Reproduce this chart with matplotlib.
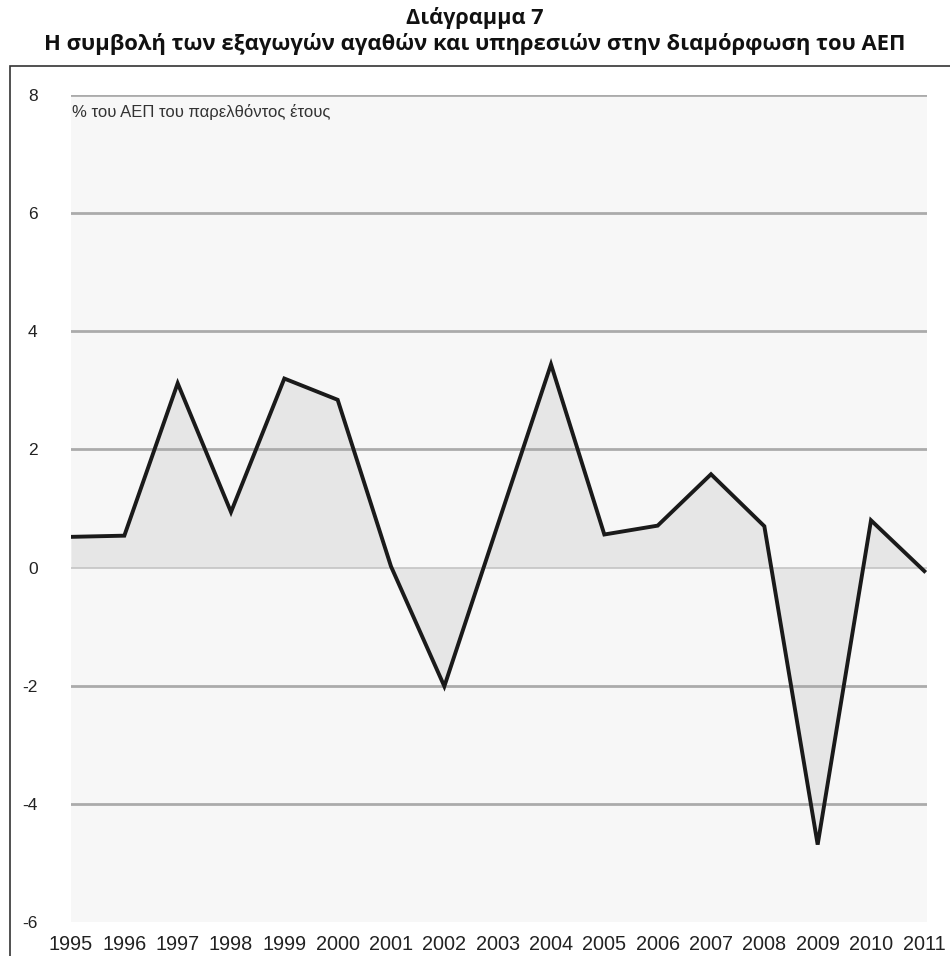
import matplotlib
matplotlib.use("Agg")
import matplotlib.pyplot as plt
from matplotlib.patches import Rectangle
import numpy as np

years = [1995, 1996, 1997, 1998, 1999, 2000, 2001, 2002, 2003,
         2004, 2005, 2006, 2007, 2008, 2009, 2010, 2011]
values = [0.52, 0.54, 3.12, 0.94, 3.20, 2.84, 0.02, -2.01, 0.72,
          3.44, 0.56, 0.71, 1.58, 0.70, -4.69, 0.80, -0.06]
yticks = [-6, -4, -2, 0, 2, 4, 6, 8]
title1 = "Διάγραμμα 7"
title2 = "Η συμβολή των εξαγωγών αγαθών και υπηρεσιών στην διαμόρφωση του ΑΕΠ"
unit_label = "% του ΑΕΠ του παρελθόντος έτους"

W, H = 950, 956
fig = plt.figure(figsize=(W / 100, H / 100), dpi=100)
fig.patch.set_facecolor("white")

# outer frame
fig.patches.append(Rectangle((10 / W, -0.05), 2.0, (956 - 66) / H + 0.05,
                             transform=fig.transFigure, fill=False,
                             edgecolor="#333333", linewidth=1.2, clip_on=False))

fig.text(0.5, 1 - 18 / H, title1, ha="center", va="center",
         fontsize=15.6, fontweight="bold", family=["Open Sans", "DejaVu Sans"], color="#111111")
fig.text(0.5, 1 - 44 / H, title2, ha="center", va="center",
         fontsize=15.8, fontweight="bold", family=["Open Sans", "DejaVu Sans"], color="#111111")

left, right = 71 / W, 927 / W
bottom, top = (H - 922) / H, (H - 95) / H
ax = fig.add_axes([left, bottom, right - left, top - bottom])
ax.set_facecolor("#f7f7f7")

x = np.array(years, dtype=float)
y = np.array(values, dtype=float)
ax.fill_between(x, y, 0, color="#e6e6e6", linewidth=0, zorder=1)
for t in yticks:
    if t == 0:
        ax.axhline(t, color="#c4c4c4", linewidth=1.2, zorder=2)
    elif t != -6:
        ax.axhline(t, color="#ababab", linewidth=2.0, zorder=2)
ax.plot(x, y, color="#1a1a1a", linewidth=2.8, solid_joinstyle="miter", zorder=3)

ax.set_xlim(1995, 2011.05)
ax.set_ylim(-6, 8)
ax.set_yticks(yticks)
ax.set_yticklabels([str(t) for t in yticks])
ax.set_xticks(years)
ax.set_xticklabels([str(v) for v in years])
for s in ax.spines.values():
    s.set_visible(False)
ax.tick_params(axis="both", length=0, colors="#222222")
ax.tick_params(axis="y", pad=24, labelsize=12.5)
ax.tick_params(axis="x", pad=9, labelsize=14.3)
for lab in ax.get_xticklabels() + ax.get_yticklabels():
    lab.set_family(["Liberation Sans", "DejaVu Sans"])

ax.text(1995.02, 7.72, unit_label, ha="left", va="center", fontsize=12,
        family=["Liberation Sans", "DejaVu Sans"], color="#333333")

fig.savefig("out.png", dpi=100, facecolor="white")
